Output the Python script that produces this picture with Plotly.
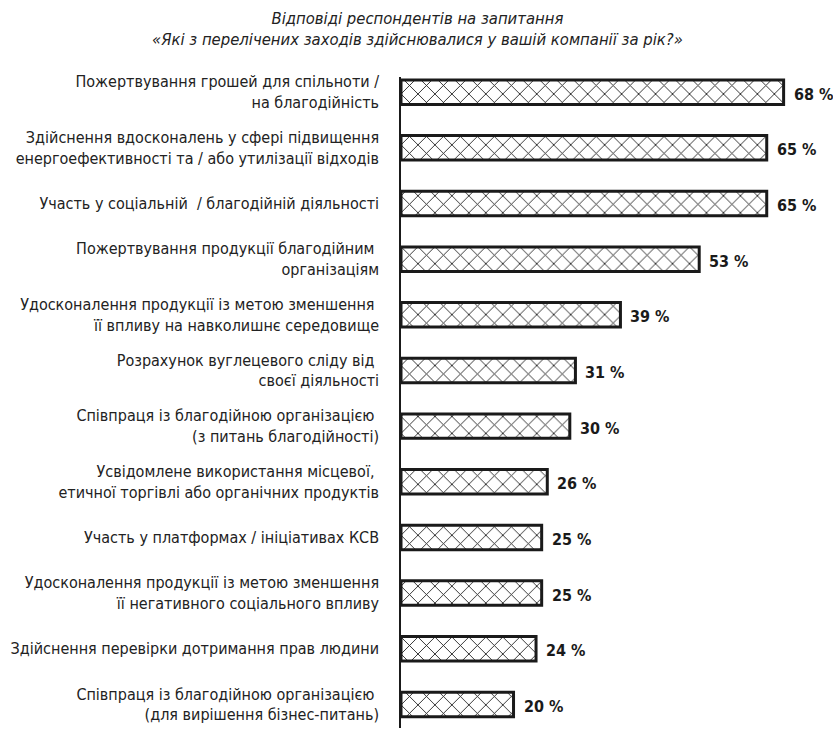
import plotly.graph_objects as go

categories = [
    "Пожертвування грошей для спільноти /<br>на благодійність",
    "Здійснення вдосконалень у сфері підвищення<br>енергоефективності та / або утилізації відходів",
    "Участь у соціальній  / благодійній діяльності",
    "Пожертвування продукції благодійним <br>організаціям",
    "Удосконалення продукції із метою зменшення <br>її впливу на навколишнє середовище",
    "Розрахунок вуглецевого сліду від <br>своєї діяльності",
    "Співпраця із благодійною організацією <br>(з питань благодійності)",
    "Усвідомлене використання місцевої, <br>етичної торгівлі або органічних продуктів",
    "Участь у платформах / ініціативах КСВ",
    "Удосконалення продукції із метою зменшення<br>її негативного соціального впливу",
    "Здійснення перевірки дотримання прав людини",
    "Співпраця із благодійною організацією <br>(для вирішення бізнес-питань)",
]
values = [68, 65, 65, 53, 39, 31, 30, 26, 25, 25, 24, 20]
value_labels = [f"{v} %" for v in values]

title_line1 = "Відповіді респондентів на запитання"
title_line2 = "«Які з перелічених заходів здійснювалися у вашій компанії за рік?»"

FONT = "DejaVu Sans Condensed, DejaVu Sans, sans-serif"
idx = list(range(len(categories)))

fig = go.Figure()
fig.add_trace(go.Bar(
    x=values,
    y=idx,
    orientation="h",
    width=0.44,
    marker=dict(
        color="white",
        line=dict(color="#1a1a1a", width=3),
        pattern=dict(shape="x", size=12, solidity=0.14, fgcolor="#1a1a1a",
                     bgcolor="white", fgopacity=1),
    ),
    hoverinfo="skip",
))

for i, (v, t) in enumerate(zip(values, value_labels)):
    fig.add_annotation(
        x=v, y=i, text=t, showarrow=False, xanchor="left", yanchor="middle",
        xshift=8, yshift=-2,
        font=dict(family=FONT, size=16, color="#1a1a1a", weight="bold"),
    )

fig.add_annotation(
    xref="paper", yref="paper", x=0.04, y=1.0745, xanchor="center", yanchor="middle",
    text=f"<i>{title_line1}</i><br><i>{title_line2}</i>", showarrow=False,
    font=dict(family=FONT, size=16.5, color="#222222"),
)

fig.update_layout(
    width=833, height=733,
    margin=dict(l=401, r=10, t=77, b=5),
    paper_bgcolor="white", plot_bgcolor="white",
    showlegend=False,
    xaxis=dict(range=[0, 75], visible=False, fixedrange=True),
    yaxis=dict(
        range=[11.424, -0.273],
        tickmode="array", tickvals=idx, ticktext=categories,
        showline=True, linecolor="#1a1a1a", linewidth=1.5,
        showgrid=False, zeroline=False, ticks="",
        ticklabelstandoff=17, automargin=False,
        tickfont=dict(family=FONT, size=16, color="#222222"),
    ),
)

fig.write_html("out.html")
